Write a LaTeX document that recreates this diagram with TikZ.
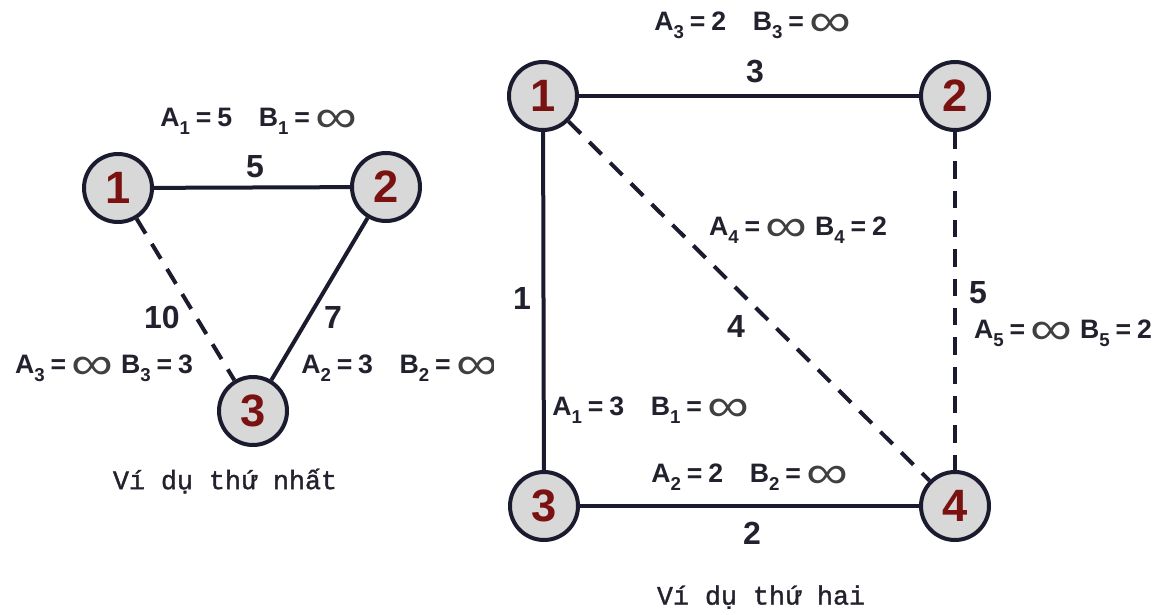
\documentclass[tikz,border=0pt]{standalone}
\usepackage{fontspec}
\setmainfont{Liberation Sans}
\newfontfamily\capmono[AutoFakeBold=1.2]{Liberation Mono}
\usepackage{graphicx}
\definecolor{edgec}{HTML}{1B1B2F}
\definecolor{numc}{HTML}{7A1212}
\definecolor{fillc}{HTML}{D8D8D8}
\definecolor{txtc}{HTML}{22222E}
\newcommand\infy{\raisebox{-0.22em}{\scalebox{2.2}[1.75]{\mdseries\color{black!75}∞}}}
\newcommand\sbs[1]{\raisebox{-0.3em}{\fontsize{14}{14}\selectfont #1}}
\newcommand\eq{\hspace{0.22em}=\hspace{0.22em}}
\begin{document}
\begin{tikzpicture}[x=0.75pt,y=-0.75pt,
  vert/.style={circle, draw=edgec, fill=fillc, line width=3pt, minimum size=51pt, inner sep=0pt,
    font=\fontsize{34}{34}\selectfont\bfseries, text=numc},
  edge/.style={line width=3pt, draw=edgec},
  dashedge/.style={edge, dash pattern=on 13pt off 9pt},
  lab/.style={font=\fontsize{20}{20}\selectfont\bfseries, text=txtc, inner sep=0pt},
  wt/.style={font=\fontsize{24}{24}\selectfont\bfseries, text=txtc, inner sep=0pt},
  capt/.style={font=\capmono\bfseries\fontsize{20}{20}\selectfont, text=txtc, inner sep=0pt}]
\useasboundingbox[fill=white] (0,0) rectangle (1163,614);

% ---- first example ----
\node[vert] (l1) at (118,188) {1};
\node[vert] (l2) at (386,187) {2};
\node[vert] (l3) at (253,411) {3};
\draw[edge] (l1) -- (l2);
\draw[edge] (l2) -- (l3);
\draw[dashedge] (l1) -- (l3);
\node[lab] (la1) at (259,121) {A\sbs{1}\eq 5\quad B\sbs{1}\eq\infy};
\node[wt] (lw12) at (255,167) {5};
\node[wt] (lw13) at (162,317) {10};
\node[wt] (lw23) at (333,317) {7};
\node[lab] (la3) at (104,368) {A\sbs{3}\eq\infy\ B\sbs{3}\eq 3};
\begin{scope}
\clip (0,0) rectangle (493,614);
\node[lab,anchor=west] (la2) at (301,368) {A\sbs{2}\eq 3\quad B\sbs{2}\eq\infy};
\end{scope}
\node[capt] (c1) at (225,481) {Ví dụ thứ nhất};

% ---- second example ----
\node[vert] (r1) at (543,96) {1};
\node[vert] (r2) at (955,96) {2};
\node[vert] (r3) at (544,506) {3};
\node[vert] (r4) at (955,506) {4};
\draw[edge] (r1) -- (r2);
\draw[edge] (r1) -- (r3);
\draw[edge] (r3) -- (r4);
\draw[dashedge] (r1) -- (r4);
\draw[dashedge] (r2) -- (r4);
\node[lab] (ra3) at (753,25) {A\sbs{3}\eq 2\quad B\sbs{3}\eq\infy};
\node[wt] (rw12) at (755,72) {3};
\node[lab] (ra4) at (798,230) {A\sbs{4}\eq\infy\ B\sbs{4}\eq 2};
\node[wt] (rw13) at (522,298) {1};
\node[wt] (rw14) at (736,326) {4};
\node[wt] (rw24) at (978,293) {5};
\node[lab] (ra5) at (1063,333) {A\sbs{5}\eq\infy\ B\sbs{5}\eq 2};
\node[lab] (ra1) at (651,410) {A\sbs{1}\eq 3\quad B\sbs{1}\eq\infy};
\node[lab] (ra2) at (750,477) {A\sbs{2}\eq 2\quad B\sbs{2}\eq\infy};
\node[wt] (rw34) at (752,533) {2};
\node[capt] (c2) at (761,597) {Ví dụ thứ hai};
\end{tikzpicture}
\end{document}
